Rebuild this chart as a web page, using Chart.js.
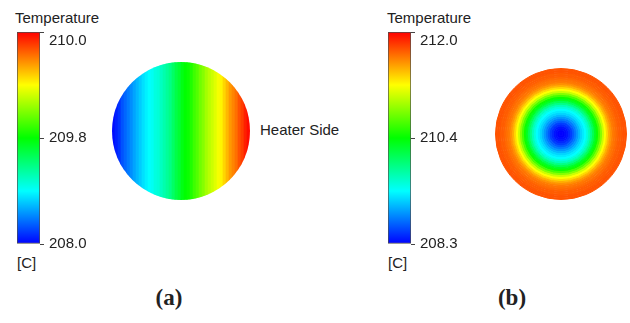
<!DOCTYPE html>
<html>
<head>
<meta charset="utf-8">
<script src="https://cdn.jsdelivr.net/npm/chart.js@4.4.1/dist/chart.umd.min.js"></script>
<style>
  html, body { margin:0; padding:0; background:#fff; }
  body { width:630px; height:323px; overflow:hidden; position:relative;
         font-family:"Liberation Sans", Arial, sans-serif; color:#222; }
  canvas, .t, .cap { position:absolute; }
  .t { font-size:15px; line-height:18px; white-space:nowrap; }
  .cap { font-family:"Liberation Serif", "Times New Roman", serif; font-weight:bold;
         font-size:23px; line-height:26px; width:60px; text-align:center; }
</style>
</head>
<body>
<div class="t" style="left:15px;top:9px">Temperature</div>
<div class="t" style="left:17px;top:254px">[C]</div>
<div class="t" style="left:260px;top:121px">Heater Side</div>
<div class="t" style="left:387px;top:9px">Temperature</div>
<div class="t" style="left:388px;top:254px">[C]</div>
<div class="cap" style="left:139px;top:285px">(a)</div>
<div class="cap" style="left:482px;top:285px">(b)</div>

<canvas id="barA" width="90" height="260" style="left:17px;top:8px"></canvas>
<canvas id="diskA" width="138" height="138" style="left:112px;top:62px"></canvas>
<canvas id="barB" width="90" height="260" style="left:388px;top:8px"></canvas>
<canvas id="diskB" width="132" height="132" style="left:495px;top:68px"></canvas>

<script>
// Colour-bar tick labels, bottom to top (°C)
const ticksA = ['208.0', '209.8', '210.0'];
const ticksB = ['208.3', '210.4', '212.0'];

// (a) temperature across the disk, one value per vertical strip, left to right (°C)
const tempsA = [
  208.04, 208.11, 208.18, 208.29, 208.36, 208.43, 208.50, 208.58, 208.65, 208.72,
  208.79, 208.85, 208.90, 208.94, 209.01, 209.04, 209.12, 209.19, 209.26, 209.33,
  209.44, 209.55, 209.62, 209.73, 209.800, 209.804, 209.812, 209.824, 209.832, 209.844,
  209.852, 209.864, 209.872, 209.880, 209.888, 209.896, 209.904, 209.916, 209.928, 209.940,
  209.948, 209.956, 209.968, 209.976, 209.988, 209.996
];

// (b) temperature by ring, centre to rim (°C)
const tempsB = [
  208.30, 208.30, 208.34, 208.38, 208.47, 208.55, 208.68, 208.80, 208.93, 209.06,
  209.18, 209.27, 209.35, 209.48, 209.64, 209.85, 210.06, 210.27, 210.43, 210.62,
  210.82, 211.04, 211.20, 211.33, 211.46, 211.55, 211.62, 211.65, 211.68, 211.71,
  211.71, 211.74, 211.74
];

// Rainbow colour map: blue -> cyan -> green -> yellow -> red
const palette = [[0, 0, 255], [0, 255, 255], [0, 255, 0], [255, 255, 0], [255, 0, 0]];

function paletteColor(f) {
  f = Math.max(0, Math.min(1, f));
  const s = f * (palette.length - 1);
  const i = Math.min(Math.floor(s), palette.length - 2);
  const k = s - i;
  const a = palette[i], b = palette[i + 1];
  const c = a.map((v, j) => Math.round(v + (b[j] - v) * k));
  return `rgb(${c[0]},${c[1]},${c[2]})`;
}

// position of a temperature along the colour bar (labels are evenly spaced)
function level(t, ticks) {
  const v = ticks.map(Number);
  const n = v.length - 1;
  if (t <= v[0]) return 0;
  for (let i = 0; i < n; i++) {
    if (t <= v[i + 1]) return (i + (t - v[i]) / (v[i + 1] - v[i])) / n;
  }
  return 1;
}

function barGradient(chart) {
  const a = chart.chartArea;
  if (!a) return null;
  const g = chart.ctx.createLinearGradient(0, a.bottom, 0, a.top);
  palette.forEach((_, i) => {
    const f = i / (palette.length - 1);
    g.addColorStop(f, paletteColor(f));
  });
  return g;
}

const quiet = { responsive: false, animation: false, events: [],
  plugins: { legend: { display: false }, tooltip: { enabled: false } } };

function colorbar(id, ticks) {
  new Chart(document.getElementById(id), {
    type: 'bar',
    data: {
      labels: [''],
      datasets: [{
        data: [[0, 1]],
        backgroundColor: ctx => barGradient(ctx.chart),
        borderColor: '#4d4d4d', borderWidth: 1, borderSkipped: false,
        barPercentage: 1, categoryPercentage: 1
      }]
    },
    options: {
      ...quiet,
      layout: { padding: { top: 24, bottom: 24, left: 0, right: 0 } },
      scales: {
        x: { display: false },
        y: {
          position: 'right', min: 0, max: 1,
          afterBuildTicks: s => { s.ticks = ticks.map((_, i) => ({ value: i / (ticks.length - 1) })); },
          afterFit: s => { s.width = 67; },
          grid: { drawOnChartArea: false, drawTicks: true, tickLength: 4, color: '#444', lineWidth: 1 },
          border: { display: false },
          ticks: {
            padding: 5, color: '#222',
            font: { family: 'Liberation Sans', size: 15 },
            callback: (v, i) => i === ticks.length - 1 ? ['', ticks[i]] : ticks[i]
          }
        }
      }
    }
  });
}

// keeps the field marks inside a round face
const roundFace = {
  id: 'roundFace',
  beforeDatasetsDraw(chart) {
    const a = chart.chartArea, ctx = chart.ctx;
    ctx.save();
    ctx.beginPath();
    ctx.arc((a.left + a.right) / 2, (a.top + a.bottom) / 2, Math.min(a.width, a.height) / 2, 0, Math.PI * 2);
    ctx.clip();
  },
  afterDatasetsDraw(chart) { chart.ctx.restore(); }
};

colorbar('barA', ticksA);
colorbar('barB', ticksB);

// (a) vertical strips, coloured by temperature
new Chart(document.getElementById('diskA'), {
  type: 'bar',
  data: {
    labels: tempsA.map((_, i) => i),
    datasets: [{
      data: tempsA.map(() => [0, 1]),
      backgroundColor: tempsA.map(t => paletteColor(level(t, ticksA))),
      borderWidth: 0, barPercentage: 1, categoryPercentage: 1
    }]
  },
  options: {
    ...quiet,
    layout: { padding: 0 },
    scales: { x: { display: false }, y: { display: false, min: 0, max: 1 } }
  },
  plugins: [roundFace]
});

// (b) concentric rings, outermost dataset first
new Chart(document.getElementById('diskB'), {
  type: 'doughnut',
  data: {
    labels: ['T'],
    datasets: tempsB.slice().reverse().map(t => {
      const c = paletteColor(level(t, ticksB));
      return { data: [1], backgroundColor: c, borderColor: c, borderWidth: 1 };
    })
  },
  options: {
    ...quiet,
    layout: { padding: 0 },
    cutout: 0, offset: 0, hoverOffset: 0, spacing: 0
  }
});
</script>
</body>
</html>
